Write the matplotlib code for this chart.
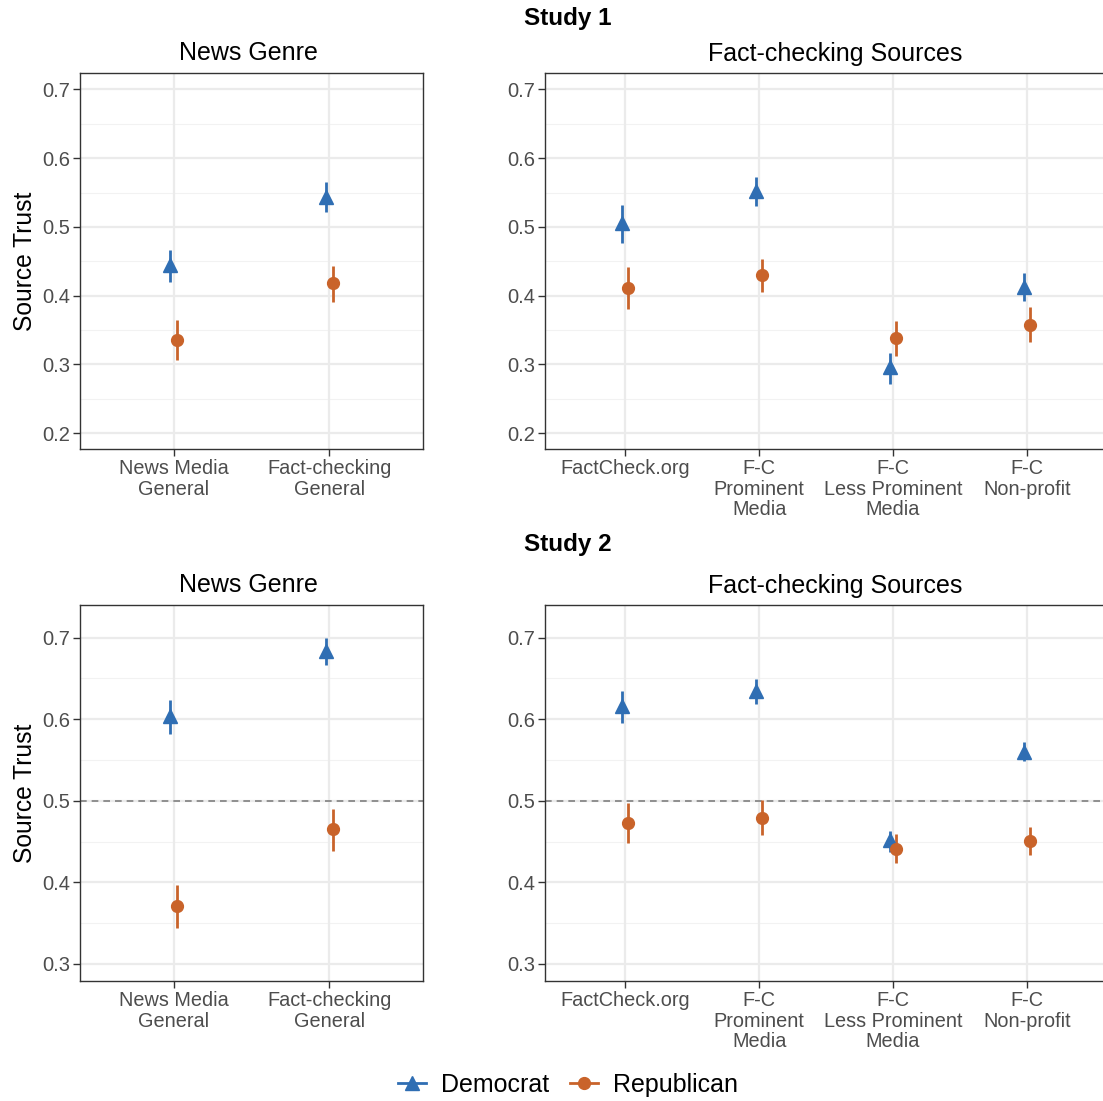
import matplotlib.pyplot as plt
from matplotlib.lines import Line2D

plt.rcParams['font.family'] = ['Liberation Sans', 'DejaVu Sans']

genre_labels = ["News Media\nGeneral", "Fact-checking\nGeneral"]
source_labels = ["FactCheck.org", "F-C\nProminent\nMedia", "F-C\nLess Prominent\nMedia", "F-C\nNon-profit"]

# Study 1
s1_genre_dem = [0.445, 0.544]
s1_genre_dem_lo = [0.420, 0.522]
s1_genre_dem_hi = [0.467, 0.565]
s1_genre_rep = [0.335, 0.418]
s1_genre_rep_lo = [0.306, 0.391]
s1_genre_rep_hi = [0.364, 0.443]

s1_src_dem = [0.506, 0.552, 0.296, 0.413]
s1_src_dem_lo = [0.476, 0.530, 0.272, 0.393]
s1_src_dem_hi = [0.532, 0.572, 0.317, 0.433]
s1_src_rep = [0.411, 0.430, 0.338, 0.357]
s1_src_rep_lo = [0.380, 0.405, 0.312, 0.332]
s1_src_rep_hi = [0.442, 0.454, 0.363, 0.383]

# Study 2
s2_genre_dem = [0.604, 0.684]
s2_genre_dem_lo = [0.582, 0.666]
s2_genre_dem_hi = [0.623, 0.700]
s2_genre_rep = [0.371, 0.465]
s2_genre_rep_lo = [0.344, 0.439]
s2_genre_rep_hi = [0.397, 0.490]

s2_src_dem = [0.616, 0.635, 0.452, 0.560]
s2_src_dem_lo = [0.595, 0.619, 0.437, 0.549]
s2_src_dem_hi = [0.634, 0.649, 0.463, 0.572]
s2_src_rep = [0.473, 0.479, 0.441, 0.451]
s2_src_rep_lo = [0.448, 0.458, 0.424, 0.433]
s2_src_rep_hi = [0.497, 0.501, 0.459, 0.468]

dem_color = "#2F6EB3"
rep_color = "#C9632A"
W, H = 1103, 1101


def add_axes(fig, x0, y0, x1, y1):
    return fig.add_axes([x0 / W, 1 - y1 / H, (x1 - x0) / W, (y1 - y0) / H])


def draw_panel(ax, labels, dem, dlo, dhi, rep, rlo, rhi, ylim, yticks, minor, hline=False):
    n = len(labels)
    x = list(range(1, n + 1))
    off = 0.024
    ax.set_facecolor("white")
    for m in minor:
        ax.axhline(m, color="#F2F2F2", lw=0.8, zorder=0)
    for t in yticks:
        ax.axhline(t, color="#EBEBEB", lw=1.6, zorder=0)
    for xi in x:
        ax.axvline(xi, color="#EBEBEB", lw=1.6, zorder=0)
    if hline:
        ax.axhline(0.5, color="#7F7F7F", lw=1.2, ls=(0, (4, 3)), zorder=1)
    xd = [v - off for v in x]
    xr = [v + off for v in x]
    ax.vlines(xd, dlo, dhi, color=dem_color, lw=2, zorder=2)
    ax.plot(xd, dem, "^", color=dem_color, ms=9.5, zorder=3)
    ax.vlines(xr, rlo, rhi, color=rep_color, lw=2, zorder=2)
    ax.plot(xr, rep, "o", color=rep_color, ms=8.5, zorder=3)
    ax.set_xlim(0.4, n + 0.6)
    ax.set_ylim(*ylim)
    ax.set_xticks(x)
    ax.set_xticklabels(labels, fontsize=14.3, color="#4D4D4D", linespacing=1.12)
    ax.set_yticks(yticks)
    ax.set_yticklabels(["%.1f" % t for t in yticks], fontsize=14.5, color="#4D4D4D")
    ax.tick_params(length=5, width=1, color="#333333", pad=2)
    for s in ax.spines.values():
        s.set_color("#333333")
        s.set_linewidth(1)


fig = plt.figure(figsize=(W / 100, H / 100), dpi=100)

top_ticks = [0.2, 0.3, 0.4, 0.5, 0.6, 0.7]
top_minor = [0.25, 0.35, 0.45, 0.55, 0.65]
bot_ticks = [0.3, 0.4, 0.5, 0.6, 0.7]
bot_minor = [0.35, 0.45, 0.55, 0.65]
top_lim = (0.177, 0.724)
bot_lim = (0.279, 0.740)

ax1 = add_axes(fig, 80, 73, 423, 449)
draw_panel(ax1, genre_labels, s1_genre_dem, s1_genre_dem_lo, s1_genre_dem_hi,
           s1_genre_rep, s1_genre_rep_lo, s1_genre_rep_hi, top_lim, top_ticks, top_minor)
ax1.set_title("News Genre", fontsize=18, pad=9, x=0.49)
ax1.set_ylabel("Source Trust", fontsize=17.7, labelpad=4)

ax2 = add_axes(fig, 545, 73, 1107, 449)
draw_panel(ax2, source_labels, s1_src_dem, s1_src_dem_lo, s1_src_dem_hi,
           s1_src_rep, s1_src_rep_lo, s1_src_rep_hi, top_lim, top_ticks, top_minor)
ax2.set_title("Fact-checking Sources", fontsize=18, pad=9, x=0.516)

ax3 = add_axes(fig, 80, 605, 423, 981)
draw_panel(ax3, genre_labels, s2_genre_dem, s2_genre_dem_lo, s2_genre_dem_hi,
           s2_genre_rep, s2_genre_rep_lo, s2_genre_rep_hi, bot_lim, bot_ticks, bot_minor, hline=True)
ax3.set_title("News Genre", fontsize=18, pad=9, x=0.49)
ax3.set_ylabel("Source Trust", fontsize=17.7, labelpad=4)

ax4 = add_axes(fig, 545, 605, 1107, 981)
draw_panel(ax4, source_labels, s2_src_dem, s2_src_dem_lo, s2_src_dem_hi,
           s2_src_rep, s2_src_rep_lo, s2_src_rep_hi, bot_lim, bot_ticks, bot_minor, hline=True)
ax4.set_title("Fact-checking Sources", fontsize=18, pad=9, x=0.516)

fig.text(568 / W, 1 - 18 / H, "Study 1", fontsize=17.5, fontweight="bold", ha="center", va="center")
fig.text(568 / W, 1 - 545 / H, "Study 2", fontsize=17.5, fontweight="bold", ha="center", va="center")

handles = [Line2D([0], [0], color=dem_color, marker="^", ms=9.5, lw=2),
           Line2D([0], [0], color=rep_color, marker="o", ms=8.5, lw=2)]
fig.legend(handles, ["Democrat", "Republican"], loc="center", bbox_to_anchor=(568 / W, 1 - 1085 / H),
           ncol=2, frameon=False, fontsize=18, handlelength=1.15, columnspacing=0.8, handletextpad=0.6)

fig.savefig("out.png", dpi=100, facecolor="white")
